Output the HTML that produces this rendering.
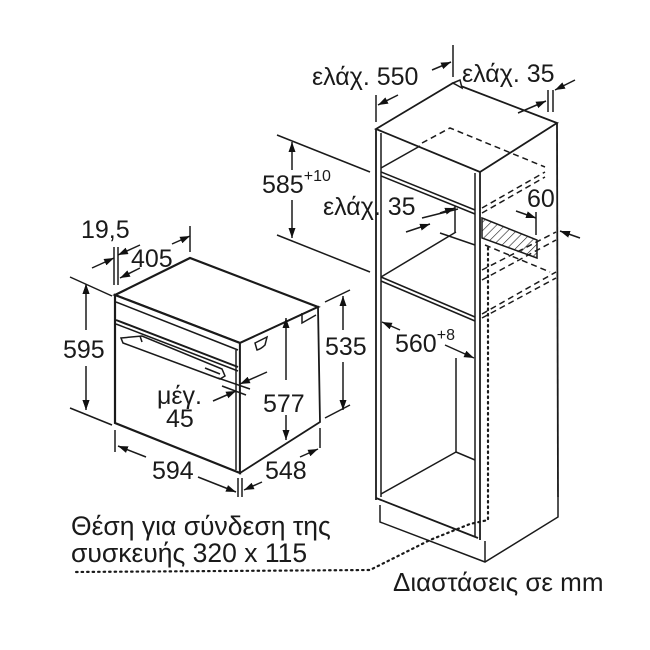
<!DOCTYPE html>
<html><head><meta charset="utf-8"><style>
html,body{margin:0;padding:0;background:#fff;}
svg{display:block}
text{font-family:"Liberation Sans",sans-serif;fill:#1a1a1a;}
</style></head><body>
<svg width="650" height="650" viewBox="0 0 650 650" xmlns="http://www.w3.org/2000/svg">
<defs>
<marker id="a" viewBox="0 0 10 10" refX="10" refY="5" markerWidth="10" markerHeight="10" orient="auto-start-reverse" markerUnits="userSpaceOnUse"><path d="M0,1.5 L10,5 L0,8.5z" fill="#111"/></marker>
<pattern id="h" patternUnits="userSpaceOnUse" width="6" height="6" patternTransform="rotate(45)"><line x1="0" y1="0" x2="0" y2="6" stroke="#222" stroke-width="1.2"/></pattern>
</defs>
<g stroke="#1a1a1a" stroke-width="1.5" fill="none">
<!-- OVEN -->
<polygon points="115,295 190,258 318,307 240,343" fill="#fff" stroke-width="2.2"/>
<polygon points="115,295 240,343 240,473 115,423" fill="#fff" stroke-width="2.2"/>
<polygon points="240,343 318,307 320,422 240,473" fill="#fff" stroke-width="1.8"/>
<line x1="116" y1="302" x2="238" y2="350"/>
<line x1="116" y1="320" x2="238" y2="367" stroke-width="2"/>
<line x1="116" y1="324" x2="238" y2="371"/>
<line x1="236" y1="350" x2="236" y2="470"/>
<polygon points="121,338 142,336 222,369 225,376 220,379 123,343"/>
<line x1="140" y1="336" x2="142" y2="342"/>
<line x1="205" y1="368" x2="220" y2="374"/>
<path d="M255,343 q8,-4 12,-6 l-2,8 q-4,4 -8,5z"/>
<path d="M302,313 l0,10 l14,-8"/>
<!-- oven dims -->
<line x1="114" y1="285" x2="114" y2="247"/>
<line x1="118" y1="285" x2="118" y2="247"/>
<line x1="190" y1="252" x2="190" y2="226"/>
<line x1="92" y1="268" x2="114" y2="258" marker-end="url(#a)"/>
<line x1="140" y1="245" x2="118" y2="255" marker-end="url(#a)"/>
<line x1="120" y1="278" x2="140" y2="268" marker-start="url(#a)"/>
<line x1="172" y1="244" x2="190" y2="236" marker-end="url(#a)"/>
<line x1="70" y1="277" x2="112" y2="296"/>
<line x1="70" y1="408" x2="112" y2="425"/>
<line x1="86" y1="284" x2="86" y2="410" marker-start="url(#a)" marker-end="url(#a)" stroke="none"/>
<line x1="86" y1="330" x2="86" y2="284" marker-end="url(#a)"/>
<line x1="86" y1="366" x2="86" y2="410" marker-end="url(#a)"/>
<line x1="325" y1="302" x2="350" y2="290"/>
<line x1="325" y1="418" x2="350" y2="405"/>
<line x1="343" y1="330" x2="343" y2="296" marker-end="url(#a)"/>
<line x1="343" y1="362" x2="343" y2="410" marker-end="url(#a)"/>
<line x1="286" y1="380" x2="286" y2="318" marker-end="url(#a)"/>
<line x1="286" y1="415" x2="286" y2="440" marker-end="url(#a)"/>
<line x1="115" y1="430" x2="115" y2="452"/>
<line x1="238" y1="478" x2="238" y2="497"/>
<line x1="242" y1="478" x2="242" y2="497"/>
<line x1="320" y1="428" x2="320" y2="448"/>
<line x1="118" y1="446" x2="146" y2="457" marker-start="url(#a)"/>
<line x1="198" y1="477" x2="236" y2="492" marker-end="url(#a)"/>
<line x1="244" y1="490" x2="262" y2="482" marker-start="url(#a)"/>
<line x1="300" y1="457" x2="318" y2="449" marker-end="url(#a)"/>
<line x1="218" y1="378" x2="250" y2="389"/>
<line x1="222" y1="386" x2="246" y2="395"/>
<line x1="267" y1="372" x2="240" y2="384" marker-end="url(#a)"/>
<line x1="213" y1="401" x2="236" y2="391" marker-end="url(#a)"/>
<!-- CABINET -->
<polygon points="376,129 453,83 557,123 480,172" fill="#fff" stroke-width="1.8"/>
<polygon points="453,83 460,80 462,88" fill="#fff"/>
<line x1="376" y1="129" x2="376" y2="500" stroke-width="1.8"/>
<line x1="381" y1="133" x2="381" y2="497"/>
<line x1="475" y1="173" x2="475" y2="537"/>
<line x1="480" y1="172" x2="480" y2="540" stroke-width="1.8"/>
<line x1="557" y1="123" x2="558" y2="497" stroke-width="1.8"/>
<line x1="381" y1="172" x2="475" y2="210"/>
<line x1="381" y1="176" x2="475" y2="214"/>
<line x1="381" y1="168" x2="420" y2="146"/>
<line x1="381" y1="277" x2="475" y2="317"/>
<line x1="381" y1="281" x2="475" y2="321"/>
<line x1="381" y1="277" x2="456" y2="232"/>
<line x1="455" y1="206" x2="455" y2="232"/>
<line x1="440" y1="233" x2="475" y2="245"/>
<line x1="376" y1="498" x2="478" y2="538" stroke-width="1.8"/>
<line x1="381" y1="494" x2="456" y2="452"/>
<line x1="456" y1="452" x2="475" y2="460"/>
<line x1="456" y1="358" x2="456" y2="452"/>
<polyline points="380,505 380,522 485,562 558,517 558,497"/>
<line x1="485" y1="541" x2="485" y2="562"/>
<g stroke-dasharray="6,4">
<polyline points="422,143 450,128 545,167"/>
<line x1="482" y1="208" x2="545" y2="172"/>
<line x1="482" y1="213" x2="545" y2="177"/>
<line x1="482" y1="270" x2="556" y2="232"/>
<line x1="482" y1="280" x2="556" y2="240"/>
<line x1="482" y1="314" x2="556" y2="272"/>
<line x1="482" y1="318" x2="556" y2="278"/>
<line x1="485" y1="245" x2="550" y2="272"/>
</g>
<polygon points="482,218 537,240 537,258 482,238" fill="url(#h)"/>
<polyline points="488,248 488,520 470,524 430,540 370,570 73,572" stroke-dasharray="1.5,4" stroke-width="2.2" stroke-linecap="round"/>
<!-- cabinet dims -->
<line x1="376" y1="122" x2="376" y2="95"/>
<line x1="453" y1="77" x2="453" y2="45"/>
<line x1="548" y1="112" x2="548" y2="90"/>
<line x1="553" y1="112" x2="553" y2="90"/>
<line x1="398" y1="95" x2="378" y2="105" marker-end="url(#a)"/>
<line x1="432" y1="70" x2="451" y2="62" marker-end="url(#a)"/>
<line x1="518" y1="113" x2="546" y2="101" marker-end="url(#a)"/>
<line x1="575" y1="80" x2="555" y2="90" marker-end="url(#a)"/>
<line x1="277" y1="135" x2="370" y2="172"/>
<line x1="277" y1="235" x2="370" y2="272"/>
<line x1="292" y1="170" x2="292" y2="142" marker-end="url(#a)"/>
<line x1="292" y1="200" x2="292" y2="238" marker-end="url(#a)"/>
<line x1="422" y1="218" x2="458" y2="209"/>
<line x1="440" y1="213" x2="455" y2="208" marker-end="url(#a)"/>
<line x1="406" y1="232" x2="430" y2="224" marker-end="url(#a)"/>
<line x1="516" y1="211" x2="536" y2="218" marker-end="url(#a)"/>
<line x1="536" y1="212" x2="536" y2="235"/>
<line x1="580" y1="238" x2="560" y2="231" marker-end="url(#a)"/>
<line x1="400" y1="330" x2="382" y2="322" marker-end="url(#a)"/>
<line x1="445" y1="345" x2="474" y2="358" marker-end="url(#a)"/>
</g>
<g font-size="25">
<text x="81" y="238">19,5</text>
<text x="131" y="267">405</text>
<text x="63" y="358">595</text>
<text x="325" y="355">535</text>
<text x="263" y="412">577</text>
<text x="157" y="404">μέγ.</text>
<text x="166" y="427">45</text>
<text x="152" y="479">594</text>
<text x="265" y="479">548</text>
<text x="312" y="85">ελάχ. 550</text>
<text x="462" y="82">ελάχ. 35</text>
<text x="262" y="193">585<tspan font-size="16" dy="-12">+10</tspan></text>
<text x="323" y="215">ελάχ. 35</text>
<text x="527" y="207">60</text>
<text x="395" y="352">560<tspan font-size="16" dy="-12">+8</tspan></text>
<text x="71" y="535" font-size="26.5">Θέση για σύνδεση της</text>
<text x="71" y="562" font-size="26.5">συσκευής 320 x 115</text>
<text x="393" y="591" font-size="26">Διαστάσεις σε mm</text>
</g>
</svg>
</body></html>
